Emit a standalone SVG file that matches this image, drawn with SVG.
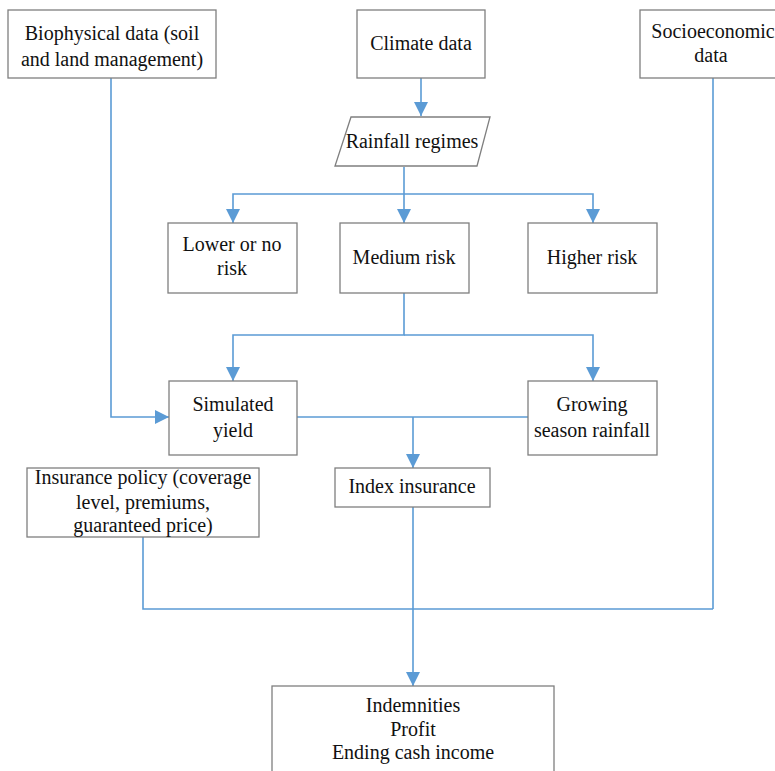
<svg xmlns="http://www.w3.org/2000/svg" width="775" height="771" viewBox="0 0 775 771">
<style>
.box{fill:#fff;stroke:#7f7f7f;stroke-width:1.3}
.t{font-family:'Liberation Serif','Times New Roman',Times,'DejaVu Serif',serif;font-size:20px;fill:#111;text-anchor:middle}
.c{fill:none;stroke:#5b9bd5;stroke-width:1.6}
</style>
<defs>
<marker id="ah" markerUnits="userSpaceOnUse" markerWidth="14" markerHeight="14" viewBox="0 0 14 14" refX="14" refY="7" orient="auto">
<path d="M0,0 L14,7 L0,14 Z" fill="#5b9bd5"/>
</marker>
</defs>
<rect width="775" height="771" fill="#fff"/>
<g id="connectors">
<path class="c" d="M421,78 V116" marker-end="url(#ah)"/>
<path class="c" d="M404,167 V223" marker-end="url(#ah)"/>
<path class="c" d="M404,194 H233 V223" marker-end="url(#ah)"/>
<path class="c" d="M404,194 H593 V223" marker-end="url(#ah)"/>
<path class="c" d="M404,293 V335 H233 V381" marker-end="url(#ah)"/>
<path class="c" d="M404,335 H593 V381" marker-end="url(#ah)"/>
<path class="c" d="M111,78 V417 H169" marker-end="url(#ah)"/>
<path class="c" d="M297,417 H528"/>
<path class="c" d="M413,417 V468" marker-end="url(#ah)"/>
<path class="c" d="M143,537 V609 H713"/>
<path class="c" d="M713,78 V609"/>
<path class="c" d="M413,507 V686" marker-end="url(#ah)"/>
</g>
<g id="biophysical">
<rect class="box" x="8" y="10" width="208" height="68"/>
<text class="t" x="112" y="40" font-family="Liberation Serif">Biophysical data (soil</text>
<text class="t" x="112" y="66" font-family="Liberation Serif">and land management)</text>
</g>
<g id="climate">
<rect class="box" x="357" y="10" width="128" height="68"/>
<text class="t" x="421" y="50">Climate data</text>
</g>
<g id="socioeconomic">
<rect class="box" x="640" y="10" width="146" height="68"/>
<text class="t" x="713" y="38">Socioeconomic</text>
<text class="t" x="711" y="62">data</text>
</g>
<g id="rainfall">
<polygon class="box" points="351,117 490,117 477,166 335,166"/>
<text class="t" x="412" y="148">Rainfall regimes</text>
</g>
<g id="lower">
<rect class="box" x="168" y="223" width="129" height="70"/>
<text class="t" x="232" y="251">Lower or no</text>
<text class="t" x="232" y="275">risk</text>
</g>
<g id="medium">
<rect class="box" x="340" y="223" width="129" height="70"/>
<text class="t" x="404" y="264">Medium risk</text>
</g>
<g id="higher">
<rect class="box" x="528" y="223" width="129" height="70"/>
<text class="t" x="592" y="264">Higher risk</text>
</g>
<g id="simulated">
<rect class="box" x="169" y="381" width="128" height="74"/>
<text class="t" x="233" y="411">Simulated</text>
<text class="t" x="233" y="437">yield</text>
</g>
<g id="growing">
<rect class="box" x="528" y="381" width="129" height="74"/>
<text class="t" x="592" y="411">Growing</text>
<text class="t" x="592" y="437">season rainfall</text>
</g>
<g id="policy">
<rect class="box" x="27" y="468" width="232" height="69"/>
<text class="t" x="143" y="484">Insurance policy (coverage</text>
<text class="t" x="143" y="509">level, premiums,</text>
<text class="t" x="143" y="532">guaranteed price)</text>
</g>
<g id="index">
<rect class="box" x="335" y="468" width="155" height="39"/>
<text class="t" x="412" y="493">Index insurance</text>
</g>
<g id="outcomes">
<rect class="box" x="272" y="686" width="282" height="100"/>
<text class="t" x="413" y="712">Indemnities</text>
<text class="t" x="413" y="736">Profit</text>
<text class="t" x="413" y="759">Ending cash income</text>
</g>
</svg>
